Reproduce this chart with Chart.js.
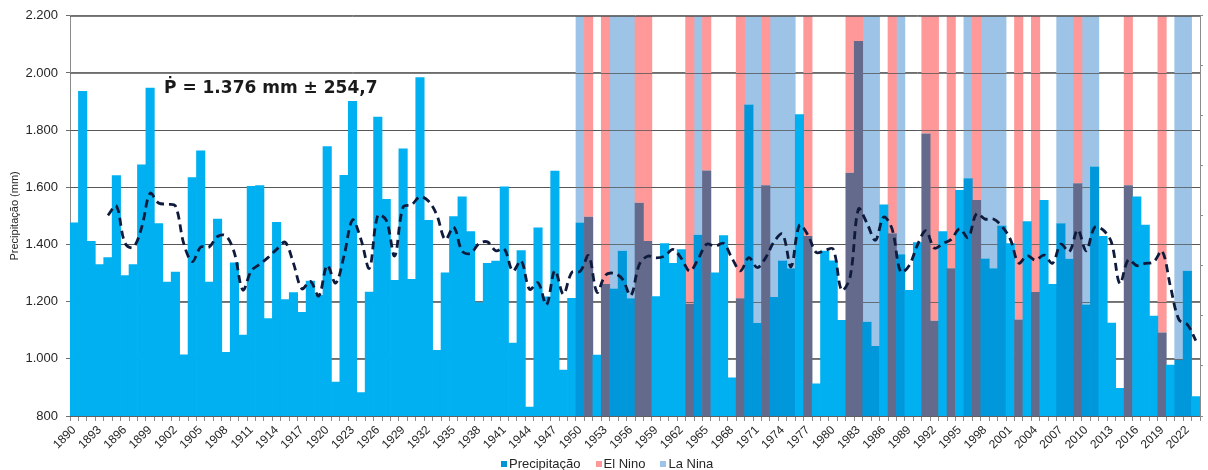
<!DOCTYPE html>
<html lang="pt-BR">
<head>
<meta charset="utf-8">
<title>Precipitação anual</title>
<script src="https://cdn.jsdelivr.net/npm/chart.js@4.4.1/dist/chart.umd.min.js"></script>
<style>
  html, body { margin: 0; padding: 0; background: #fff; }
  #wrap { position: relative; width: 1208px; height: 470px; }
  #legend {
    position: absolute; top: 456px; left: 501px;
    display: flex; align-items: center;
    font: 13px "Liberation Sans", Arial, sans-serif; color: #262626;
    line-height: 15px; white-space: nowrap;
  }
  .lg-item { display: flex; align-items: center; margin-right: 15px; }
  .lg-box  { width: 6px; height: 6px; margin-right: 2px; }
</style>
</head>
<body>
<div id="wrap">
  <canvas id="chart" width="1208" height="470"></canvas>
  <div id="legend"></div>
</div>
<script>
'use strict';

// ── Data ─────────────────────────────────────────────────────────────────────
const FIRST_YEAR = 1890;

// annual precipitation (mm), 1890 … 2023
const PRECIP = [
  1477, 1937, 1412, 1331, 1355, 1642, 1292, 1331, 1680, 1948,   // 1890
  1474, 1270, 1305, 1015, 1635, 1729, 1270, 1490, 1024, 1337,   // 1900
  1084, 1605, 1607, 1142, 1479, 1208, 1233, 1164, 1273, 1223,   // 1910
  1744,  920, 1643, 1902,  883, 1235, 1847, 1559, 1276, 1736,   // 1920
  1279, 1985, 1486, 1031, 1302, 1499, 1568, 1446, 1198, 1335,   // 1930
  1343, 1603, 1056, 1380,  832, 1459, 1218, 1658,  962, 1213,   // 1940
  1477, 1497, 1014, 1262, 1246, 1378, 1212, 1546, 1412, 1219,   // 1950
  1404, 1335, 1383, 1193, 1434, 1659, 1302, 1432,  935, 1212,   // 1960
  1890, 1125, 1607, 1216, 1344, 1317, 1856, 1430,  914, 1378,   // 1970
  1344, 1136, 1651, 2112, 1130, 1045, 1540, 1439, 1366, 1241,   // 1980
  1408, 1788, 1133, 1446, 1317, 1591, 1632, 1556, 1351, 1317,   // 1990
  1466, 1404, 1138, 1481, 1234, 1556, 1262, 1474, 1350, 1614,   // 2000
  1190, 1673, 1430, 1126,  898, 1607, 1568, 1469, 1151, 1092,   // 2010
   979,  996, 1308,  869                                        // 2020
];

// dashed 5-year moving average (starts 1894)
const MOVING_AVG = [
  null, null, null, null, 1502, 1535, 1406, 1390, 1460, 1579,   // 1890
  1545, 1541, 1535, 1402, 1340, 1391, 1391, 1428, 1430, 1370,   // 1900
  1241, 1308, 1331, 1355, 1383, 1408, 1334, 1245, 1271, 1220,   // 1910
  1327, 1265, 1361, 1486, 1418, 1317, 1502, 1485, 1360, 1531,   // 1920
  1539, 1567, 1552, 1503, 1417, 1461, 1377, 1369, 1403, 1409,   // 1930
  1378, 1385, 1307, 1343, 1243, 1266, 1189, 1309, 1226, 1302,   // 1940
  1306, 1361, 1233, 1293, 1299, 1279, 1222, 1329, 1359, 1353,   // 1950
  1359, 1383, 1351, 1307, 1350, 1401, 1394, 1404, 1352, 1308,   // 1960
  1354, 1319, 1354, 1410, 1436, 1322, 1468, 1433, 1372, 1379,   // 1970
  1384, 1240, 1285, 1524, 1475, 1415, 1496, 1453, 1304, 1326,   // 1980
  1399, 1448, 1387, 1403, 1418, 1455, 1424, 1508, 1489, 1489,   // 1990
  1464, 1419, 1335, 1361, 1345, 1363, 1334, 1401, 1375, 1451,   // 2000
  1378, 1460, 1451, 1407, 1263, 1347, 1326, 1334, 1339, 1377,   // 2010
  1252, 1137, 1120, 1064                                        // 2020
];

const EL_NINO = [1951, 1953, 1957, 1958, 1963, 1965, 1969, 1972, 1977, 1982, 1983,
                 1987, 1991, 1992, 1994, 1997, 2002, 2004, 2009, 2015, 2019];
const LA_NINA = [1950, 1954, 1955, 1956, 1964, 1970, 1971, 1973, 1974, 1975, 1984,
                 1985, 1988, 1996, 1998, 1999, 2000, 2007, 2008, 2010, 2011, 2021, 2022];

const Y_MIN = 800, Y_MAX = 2200, Y_STEP = 200;
const MEAN_TEXT = 'Ṗ = 1.376 mm ± 254,7';
const Y_TITLE   = 'Precipitação (mm)';

const YEARS = PRECIP.map((_, i) => FIRST_YEAR + i);

// ── Colours ──────────────────────────────────────────────────────────────────
const C_PRECIP  = '#00b0f0';
const C_PR_LANA = '#0098da';
const C_PR_ELNI = '#646a8c';
const C_ELNINO  = '#ff9999';
const C_LANINA  = '#9dc3e6';
const C_AXIS    = '#8c8c8c';
const C_GRID    = '#6e6e6e';
const C_TEXT    = '#262626';

const barColors = YEARS.map(y =>
  EL_NINO.includes(y) ? C_PR_ELNI : LA_NINA.includes(y) ? C_PR_LANA : C_PRECIP);
const band = list => YEARS.map((y, i) => list.includes(y) ? [PRECIP[i], Y_MAX] : null);

const fmtThousands = v => String(v).replace(/\B(?=(\d{3})+(?!\d))/g, '.');

// ── Plugins ──────────────────────────────────────────────────────────────────
// gridlines show through the ENSO bands but stay hidden behind the rain bars
const gridOverBands = {
  id: 'gridOverBands',
  beforeDatasetDraw(chart, args) {
    if (args.meta.label !== 'Precipitação') return;
    const { ctx, chartArea, scales: { y } } = chart;
    ctx.save();
    ctx.strokeStyle = 'rgba(80, 80, 80, 0.75)';
    ctx.lineWidth = 1;
    y.ticks.forEach(t => {
      const py = Math.round(y.getPixelForValue(t.value)) + 0.5;
      ctx.beginPath();
      ctx.moveTo(chartArea.left, py);
      ctx.lineTo(chartArea.right, py);
      ctx.stroke();
    });
    ctx.restore();
  },
};

const meanLabel = {
  id: 'meanLabel',
  afterDatasetsDraw(chart) {
    const { ctx, chartArea } = chart;
    ctx.save();
    ctx.font = 'bold 17px "DejaVu Sans", sans-serif';
    ctx.fillStyle = '#1a1a1a';
    ctx.textBaseline = 'alphabetic';
    ctx.fillText(MEAN_TEXT, chartArea.left + 94, 93);
    ctx.restore();
  },
};

// ── Chart ────────────────────────────────────────────────────────────────────
const FONT = { family: '"Liberation Sans", Arial, sans-serif' };
const BAR = { borderWidth: 0, grouped: false, barPercentage: 1.08, categoryPercentage: 1 };

new Chart(document.getElementById('chart'), {
  data: {
    labels: YEARS,
    datasets: [
      { type: 'line', label: 'Média móvel (5 anos)', data: MOVING_AVG,
        borderColor: '#0f1b3d', borderWidth: 2.8, borderDash: [8, 5],
        pointRadius: 0, tension: 0.35, fill: false, order: 0 },
      { type: 'bar', label: 'Precipitação', data: PRECIP, backgroundColor: barColors,
        ...BAR, order: 2 },
      { type: 'bar', label: 'El Nino', data: band(EL_NINO), backgroundColor: C_ELNINO,
        ...BAR, order: 3 },
      { type: 'bar', label: 'La Nina', data: band(LA_NINA), backgroundColor: C_LANINA,
        ...BAR, order: 3 },
    ],
  },
  options: {
    responsive: false,
    animation: false,
    devicePixelRatio: 1,
    layout: { padding: { top: 12, left: 0, right: 0, bottom: 14 } },
    plugins: { legend: { display: false }, tooltip: { enabled: false } },
    scales: {
      x: {
        type: 'category',
        offset: true,
        grid: { offset: true, drawOnChartArea: false, tickLength: 5, color: C_AXIS },
        border: { color: C_AXIS },
        ticks: {
          autoSkip: false, minRotation: 45, maxRotation: 45, padding: 2,
          color: C_TEXT, font: { ...FONT, size: 12 },
          callback: (v, i) => (YEARS[i] - FIRST_YEAR) % 3 === 0 ? String(YEARS[i]) : '',
        },
        afterFit: s => { s.height = 40; },
      },
      y: {
        position: 'left',
        min: Y_MIN, max: Y_MAX,
        grid: { color: C_GRID, tickLength: 4 },
        border: { color: C_AXIS },
        ticks: { stepSize: Y_STEP, padding: 8, color: C_TEXT, font: { ...FONT, size: 13 },
                 callback: v => fmtThousands(v) },
        title: { display: true, text: Y_TITLE, color: C_TEXT, font: { ...FONT, size: 11 },
                 padding: { top: 8, bottom: 0 } },
        afterFit: s => { s.width = 70; },
      },
      y2: {
        position: 'right',
        min: 0, max: 8,
        grid: { drawOnChartArea: false, tickLength: 3, color: C_AXIS },
        border: { color: C_AXIS },
        ticks: { display: false, stepSize: 1 },
        afterFit: s => { s.width = 3; },
      },
    },
  },
  plugins: [gridOverBands, meanLabel],
});

// ── Legend ───────────────────────────────────────────────────────────────────
const LEGEND = [
  ['Precipitação', '#0096d6'],
  ['El Nino', C_ELNINO],
  ['La Nina', C_LANINA],
];
document.getElementById('legend').innerHTML = LEGEND.map(([name, color]) =>
  `<span class="lg-item"><span class="lg-box" style="background:${color}"></span>${name}</span>`
).join('');
</script>
</body>
</html>
